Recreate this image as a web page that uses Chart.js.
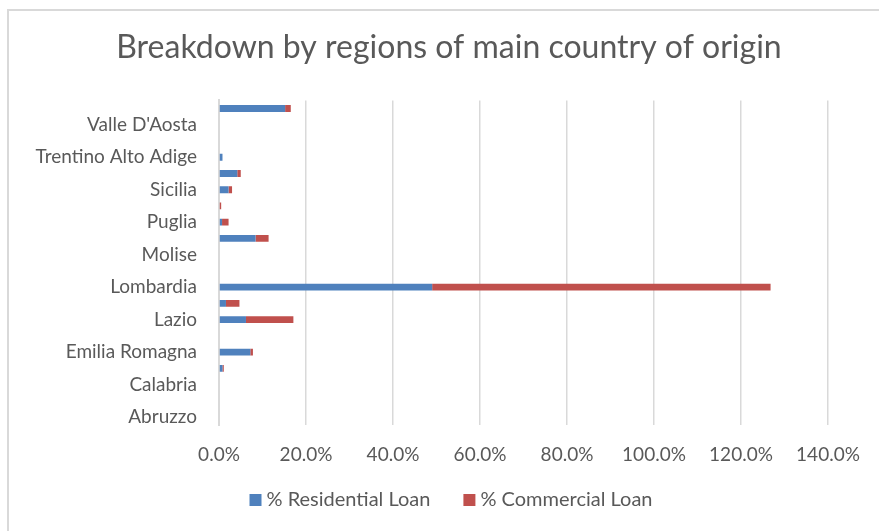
<!DOCTYPE html>
<html>
<head>
<meta charset="utf-8">
<script src="https://cdn.jsdelivr.net/npm/chart.js@4"></script>
<style>
  html, body { margin: 0; padding: 0; background: #fff; overflow: hidden; }
  #wrap { position: relative; width: 879px; height: 531px; }
  #frame { position: absolute; left: 7px; top: 9px; width: 900px; height: 560px;
           border: 2px solid #d9d9d9; box-sizing: border-box; }
  #chart { position: absolute; left: 0; top: 0; }
</style>
</head>
<body>
<div id="wrap">
  <div id="frame"></div>
  <canvas id="chart" width="879" height="531"></canvas>
</div>
<script>
// regions, bottom to top
const regions = ["Abruzzo", "Basilicata", "Calabria", "Campania", "Emilia Romagna",
  "Friuli Venezia Giulia", "Lazio", "Liguria", "Lombardia", "Marche", "Molise",
  "Piemonte", "Puglia", "Sardegna", "Sicilia", "Toscana", "Trentino Alto Adige",
  "Umbria", "Valle D'Aosta", "Veneto"];
const residential = [0, 0, 0, 0.8, 7.2, 0, 6.2, 1.6, 49.0, 0, 0, 8.4, 0.7, 0, 2.2, 4.2, 0.8, 0, 0, 15.2];
const commercial = [0, 0, 0, 0.3, 0.6, 0, 10.9, 3.1, 77.8, 0, 0, 3.0, 1.5, 0.5, 0.8, 0.8, 0, 0, 0, 1.3];
const xTicks = [0, 20, 40, 60, 80, 100, 120, 140];

const textColor = "#595959";
const gridColor = "#d9d9d9";
const fontFamily = "Lato, 'Open Sans', sans-serif";

// title sits centred on the whole frame in Excel, not on the padded area
const shiftTitle = {
  id: "shiftTitle",
  afterLayout(chart) {
    if (chart.titleBlock) {
      chart.titleBlock.left += 35;
      chart.titleBlock.right += 35;
    }
  }
};

// small legend drawn by hand so the spacing matches the Excel one
const bottomLegend = {
  id: "bottomLegend",
  afterDraw(chart) {
    const ctx = chart.ctx;
    const sets = chart.data.datasets;
    const box = 12, gap = 5, spacing = 33, cx = 451, cy = 500;
    ctx.save();
    ctx.font = "20px " + fontFamily;
    ctx.textBaseline = "middle";
    ctx.textAlign = "left";
    let total = 0;
    sets.forEach((ds, i) => {
      total += box + gap + ctx.measureText(ds.label).width + (i < sets.length - 1 ? spacing : 0);
    });
    let x = cx - total / 2;
    sets.forEach(ds => {
      ctx.fillStyle = ds.backgroundColor;
      ctx.fillRect(x, cy - box / 2, box, box);
      x += box + gap;
      ctx.fillStyle = textColor;
      ctx.fillText(ds.label, x, cy);
      x += ctx.measureText(ds.label).width + spacing;
    });
    ctx.restore();
  }
};

new Chart(document.getElementById("chart"), {
  type: "bar",
  data: {
    labels: regions,
    datasets: [{
      label: "% Residential Loan",
      data: residential,
      backgroundColor: "#4f81bd",
      barPercentage: 0.42,
      categoryPercentage: 1
    }, {
      label: "% Commercial Loan",
      data: commercial,
      backgroundColor: "#c0504d",
      barPercentage: 0.42,
      categoryPercentage: 1
    }]
  },
  options: {
    indexAxis: "y",
    responsive: false,
    animation: false,
    layout: { padding: { left: 0, right: 51, top: 18, bottom: 47 } },
    plugins: {
      title: {
        display: true,
        text: "Breakdown by regions of main country of origin",
        color: textColor,
        font: { family: fontFamily, size: 32, weight: "normal" },
        padding: { top: 10, bottom: 34 }
      },
      legend: { display: false },
      tooltip: { enabled: false }
    },
    scales: {
      x: {
        stacked: true,
        min: 0,
        max: 140,
        afterBuildTicks: function (scale) {
          scale.ticks = xTicks.map(v => ({ value: v }));
        },
        ticks: {
          color: textColor,
          font: { family: fontFamily, size: 19 },
          padding: 18,
          callback: v => v.toFixed(1) + "%"
        },
        grid: { color: gridColor, lineWidth: 1.5, drawTicks: false },
        border: { display: false }
      },
      y: {
        stacked: true,
        reverse: true,
        afterFit: function (scale) { scale.width = 219; },
        ticks: {
          color: textColor,
          font: { family: fontFamily, size: 19 },
          padding: 22,
          autoSkip: false,
          callback: function (v, i) { return i % 2 === 0 ? regions[i] : ""; }
        },
        grid: { display: false, drawTicks: false },
        border: { display: true, color: gridColor, width: 2 }
      }
    }
  },
  plugins: [shiftTitle, bottomLegend]
});
</script>
</body>
</html>
